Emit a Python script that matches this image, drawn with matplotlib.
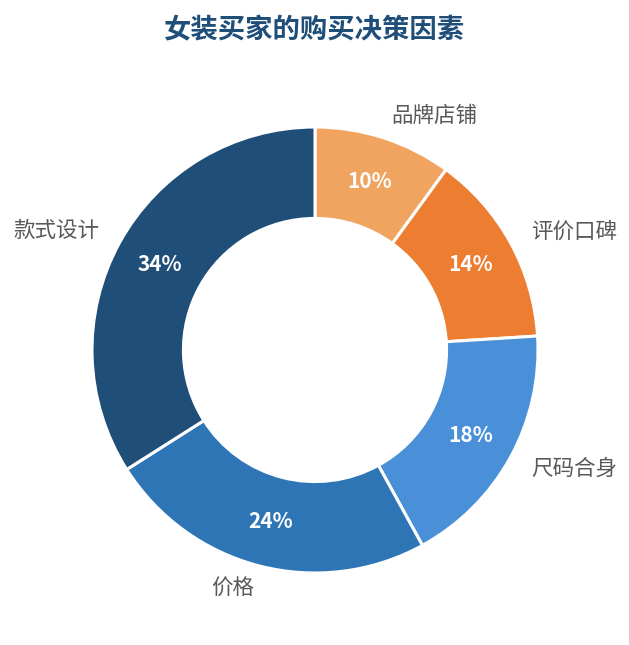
import matplotlib
matplotlib.use('Agg')
import matplotlib.pyplot as plt
import numpy as np

plt.rcParams['font.family'] = ['Noto Sans CJK SC', 'DejaVu Sans']

# 从顶部开始顺时针
categories = ['品牌店铺', '评价口碑', '尺码合身', '价格', '款式设计']
shares = [10, 14, 18, 24, 34]
colors = ['#F0A45F', '#ED7D31', '#4A90D9', '#2E75B6', '#1F4E79']

fig = plt.figure(figsize=(6.29, 6.45), dpi=100)
ax = fig.add_axes([0, 0, 1, 1])

R = 223
wedges, texts, autotexts = ax.pie(
    shares, labels=categories, colors=colors,
    startangle=90, counterclock=False,
    center=(315, 295), radius=R,
    autopct='%d%%', pctdistance=0.795, labeldistance=1.105,
    wedgeprops=dict(width=R * 0.41, edgecolor='white', linewidth=2.2),
    textprops=dict(fontsize=15.5, color='#595959'),
)
# center is not at 0, so fix the label alignment by hand
for w, t in zip(wedges, texts):
    mid = np.deg2rad((w.theta1 + w.theta2) / 2)
    t.set_ha('left' if np.cos(mid) > 0 else 'right')
for t in autotexts:
    t.set_color('white')
    t.set_fontsize(15)
    t.set_fontweight('bold')

ax.set_xlim(0, 629)
ax.set_ylim(0, 645)
ax.set_aspect('equal')
ax.axis('off')

fig.text(0.5, 1 - 30 / 645, '女装买家的购买决策因素', ha='center', va='center',
         fontsize=19.7, fontweight='bold', color='#1F4E79')

fig.savefig('out.png', dpi=100)
